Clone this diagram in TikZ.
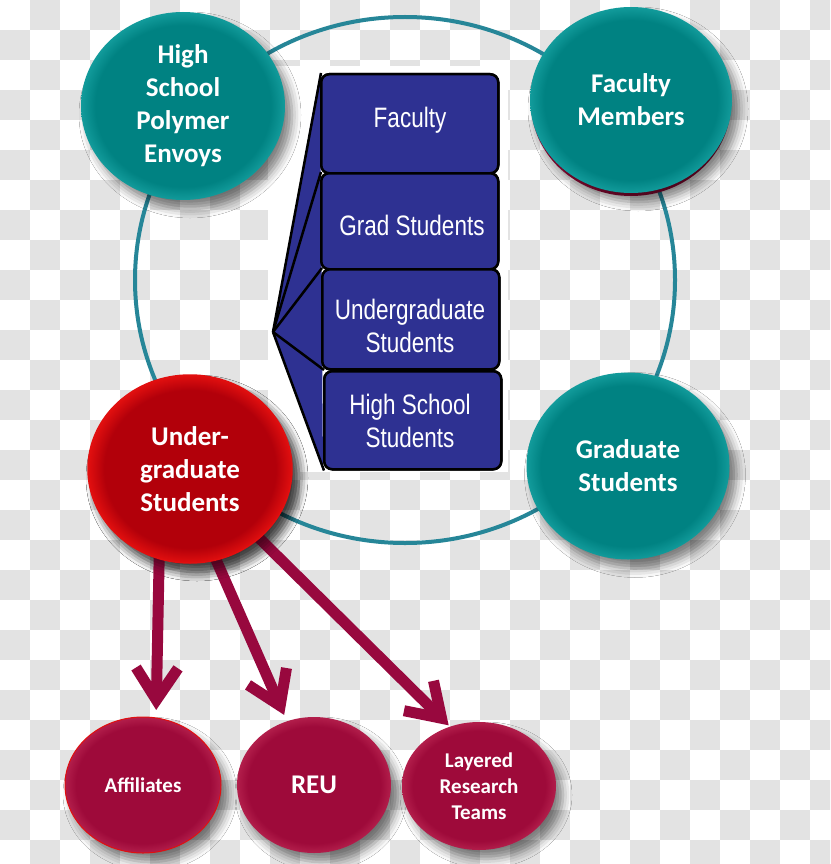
\documentclass[tikz,border=0pt]{standalone}
\usepackage{fontspec}
\setmainfont{Carlito}
\newfontfamily\arialf{Liberation Sans}
\usetikzlibrary{shapes.geometric,arrows.meta,shadows.blur}
\definecolor{checkgrey}{RGB}{227,227,227}
\definecolor{ringc}{RGB}{38,134,152}
\definecolor{tealin}{RGB}{0,130,130}
\definecolor{tealout}{RGB}{18,155,155}
\definecolor{redin}{RGB}{178,0,10}
\definecolor{redout}{RGB}{225,15,15}
\definecolor{crimin}{RGB}{158,10,58}
\definecolor{crimout}{RGB}{178,30,75}
\definecolor{arrc}{RGB}{152,8,62}
\definecolor{boxblue}{RGB}{46,49,146}
\pgfdeclareradialshading{bevelteal}{\pgfpoint{0bp}{0bp}}{color(0bp)=(tealin); color(21.5bp)=(tealin); color(25bp)=(tealout); color(50bp)=(tealout)}
\pgfdeclareradialshading{bevelred}{\pgfpoint{0bp}{0bp}}{color(0bp)=(redin); color(21bp)=(redin); color(25bp)=(redout); color(50bp)=(redout)}
\pgfdeclareradialshading{bevelcrim}{\pgfpoint{0bp}{0bp}}{color(0bp)=(crimin); color(21.5bp)=(crimin); color(25bp)=(crimout); color(50bp)=(crimout)}
\tikzset{
  ball/.style={ellipse, inner sep=0pt, outer sep=0pt,
    blur shadow={shadow xshift=7pt, shadow yshift=-9pt, shadow blur radius=9pt, shadow opacity=50}},
  tealball/.style={ball, minimum width=204pt, minimum height=188pt, shading=bevelteal},
  redball/.style={ball, minimum width=204pt, minimum height=188pt, shading=bevelred},
  crimball/.style={ball, shading=bevelcrim},
  wtxt/.style={text=white, align=center, font=\bfseries\fontsize{27}{33}\selectfont},
  stxt/.style={text=white, align=center, font=\bfseries\fontsize{21}{26}\selectfont},
  bluebox/.style={draw=black, line width=2.5pt, fill=boxblue, rounded corners=8pt, minimum width=177pt, inner sep=0pt},
  btxt/.style={text=white, align=center, font=\arialf\fontsize{22.5}{33}\selectfont},
  fanline/.style={draw=black, line width=2.5pt},
  arr/.style={line width=11pt, color=arrc, -{Straight Barb[length=32pt,width=42pt]}},
}
\newcommand{\tallt}[1]{\scalebox{1}[1.25]{#1}}
\begin{document}
\begin{tikzpicture}[x=1pt,y=-1pt]
\useasboundingbox (0,0) rectangle (830,864);
\clip (0,0) rectangle (830,864);
% checkerboard background
\fill[white] (0,0) rectangle (830,864);
\foreach \i in {0,...,27}{
  \foreach \j in {0,...,28}{
    \pgfmathtruncatemacro\s{mod(\i+\j,2)}
    \ifnum\s=1 \fill[checkgrey] (\i*30,\j*30) rectangle ++(30,30); \fi
  }
}
% ring
\draw[ringc, line width=4pt] (405,280) ellipse [x radius=270, y radius=263];
% pasted picture
\fill[white] (268,66) rectangle (508,472);
\coordinate (apex) at (273,332);
\node[bluebox, minimum height=99pt, anchor=north west] (fac) at (320,73) {};
\node[bluebox, minimum height=96pt, anchor=north west] (grad) at (320,172) {};
\node[bluebox, minimum height=100pt, anchor=north west] (ugb) at (321,268) {};
\node[bluebox, minimum height=98pt, anchor=north west] (hsb) at (323,370) {};
\fill[boxblue] (apex) -- (fac.north west) -- (hsb.south west) -- cycle;
\draw[fanline] (apex) -- ([xshift=1pt]fac.north west);
\draw[fanline] (apex) -- ([xshift=1pt]grad.north west);
\draw[fanline] (apex) -- ([xshift=1pt]ugb.north west);
\draw[fanline] (apex) -- ([xshift=1pt]hsb.north west);
\draw[fanline] (apex) -- ([xshift=1pt]hsb.south west);
\node[bluebox, minimum height=99pt, anchor=north west] at (320,73) {};
\node[bluebox, minimum height=96pt, anchor=north west] at (320,172) {};
\node[bluebox, minimum height=100pt, anchor=north west] at (321,268) {};
\node[bluebox, minimum height=98pt, anchor=north west] at (323,370) {};
\node[btxt] at (410,120) {\tallt{Faculty}};
\node[btxt] at (412,225) {\tallt{Grad Students}};
\node[btxt] at (410,326) {\tallt{Undergraduate}\\\tallt{Students}};
\node[btxt] at (410,421) {\tallt{High School}\\\tallt{Students}};
% teal circles
\node[tealball] (hs) at (183,106) {};
\node[wtxt] at (hs) {High\\School\\Polymer\\Envoys};
\fill[crimin] (631,103) ellipse [x radius=100, y radius=93];
\node[tealball, minimum width=202pt, minimum height=186pt] (fm) at (631,100) {};
\node[wtxt] at (fm) {Faculty\\Members};
\node[tealball, minimum width=203pt, minimum height=187pt] (gs) at (628,466) {};
\node[wtxt] at (gs) {Graduate\\Students};
% bottom circles
\node[crimball, minimum width=156pt, minimum height=136pt, draw=redout, line width=1pt] (aff) at (143,785) {};
\node[stxt] at (aff) {Affiliates};
\node[crimball, minimum width=154pt, minimum height=136pt] (reu) at (314,785) {};
\node[wtxt] at (reu) {REU};
\node[crimball, minimum width=154pt, minimum height=128pt] (lrt) at (479,786) {};
\node[stxt] at (lrt) {Layered\\Research\\Teams};
% arrows
\node[redball] (ug) at (190,469) {};
\draw[arr, shorten <=-2pt, shorten >=8pt] (ug.251.6) -- (aff.79.4);
\draw[arr, shorten <=-2pt, shorten >=7pt] (ug.286.6) -- (reu.113.9);
\draw[arr, shorten <=-2pt, shorten >=2pt] (ug.315.8) -- (lrt.116.9);
\node[redball, draw=redout, line width=1.5pt] at (ug) {};
\node[wtxt] at (ug) {Under-\\graduate\\Students};
\end{tikzpicture}
\end{document}
